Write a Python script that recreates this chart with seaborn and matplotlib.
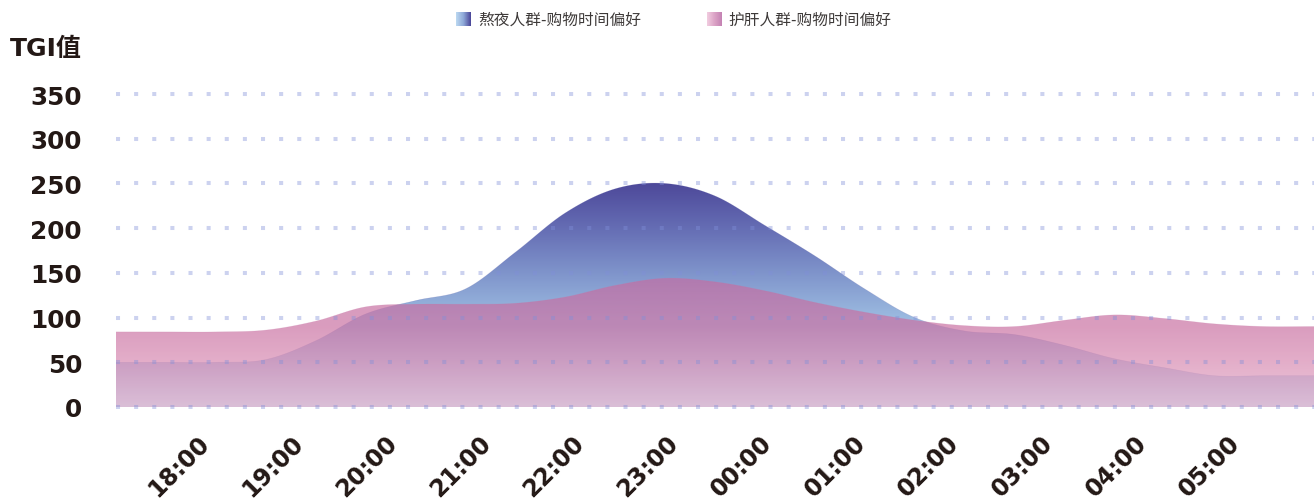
import numpy as np
import matplotlib
matplotlib.use("Agg")
import matplotlib.pyplot as plt
import seaborn as sns

# ---- data -------------------------------------------------------------
hour_labels = ["18:00", "19:00", "20:00", "21:00", "22:00", "23:00",
               "00:00", "01:00", "02:00", "03:00", "04:00", "05:00"]
series_names = ["熬夜人群-购物时间偏好", "护肝人群-购物时间偏好"]
# TGI readings sampled every half step along the time axis
night_owl_tgi = [50, 50, 50, 53, 74, 104, 119, 132, 173, 217, 244, 250, 236,
                 203, 169, 132, 100, 85, 81, 69, 54, 44, 35, 35, 35]
liver_care_tgi = [84, 84, 84, 86, 96, 112, 115, 115, 116, 123, 136, 144, 140,
                  130, 117, 106, 97, 91, 90, 97, 103, 99, 93, 90, 90]
y_ticks = [0, 50, 100, 150, 200, 250, 300, 350]

# ---- styling ----------------------------------------------------------
W, H = 1316, 502
TEXT = "#231815"
LEGEND_TEXT = "#3e3a39"
sns.set_theme(style="white")
plt.rcParams["font.family"] = ["DejaVu Sans", "Noto Sans CJK SC"]

fig = plt.figure(figsize=(W / 100, H / 100), dpi=100)
px_per_unit = 313 / 350
y_lo, y_hi = -2, 352
bottom_px = 408 + 2 * px_per_unit
top_px = 95 - 2 * px_per_unit
ax = fig.add_axes([116 / W, (H - bottom_px) / H, (1314 - 116) / W,
                   (bottom_px - top_px) / H])

n_slots = len(night_owl_tgi)
slot_x = np.arange(n_slots) / 2.0          # half-step positions, 0 .. 12


def smooth_curve(x, y, samples=24):
    """Cubic Hermite (Catmull-Rom style) curve through the readings."""
    x = np.asarray(x, float)
    y = np.asarray(y, float)
    m = np.zeros_like(y)
    m[1:-1] = (y[2:] - y[:-2]) / (x[2:] - x[:-2])
    xs, ys = [], []
    for i in range(len(x) - 1):
        h = x[i + 1] - x[i]
        t = np.linspace(0, 1, samples, endpoint=(i == len(x) - 2))
        h00 = 2 * t**3 - 3 * t**2 + 1
        h10 = t**3 - 2 * t**2 + t
        h01 = -2 * t**3 + 3 * t**2
        h11 = t**3 - t**2
        xs.append(x[i] + t * h)
        ys.append(h00 * y[i] + h10 * h * m[i] + h01 * y[i + 1] + h11 * h * m[i + 1])
    return np.concatenate(xs), np.concatenate(ys)


def gradient_area(ax, x, y, stops, zorder):
    """Fill under a curve with a vertical RGBA gradient given as (value, rgba) stops."""
    poly = ax.fill_between(x, 0, y, facecolor="none", edgecolor="none", zorder=zorder)
    vals = np.linspace(0, 360, 512)
    sv = np.array([s[0] for s in stops], float)
    sc = np.array([s[1] for s in stops], float)
    rgba = np.stack([np.interp(vals, sv, sc[:, k]) for k in range(4)], axis=-1)
    img = rgba[:, None, :]
    im = ax.imshow(img, extent=[x[0], x[-1], 0, 360], origin="lower",
                   aspect="auto", zorder=zorder, interpolation="bilinear")
    im.set_clip_path(poly.get_paths()[0], transform=ax.transData)
    return im


def c(hexstr, a=1.0):
    hexstr = hexstr.lstrip("#")
    return tuple(int(hexstr[i:i + 2], 16) / 255 for i in (0, 2, 4)) + (a,)


bx, by = smooth_curve(slot_x, night_owl_tgi)
px_, py_ = smooth_curve(slot_x, liver_care_tgi)

blue_stops = [(0, c("#c6dcf2")), (100, c("#9bbae0")), (150, c("#7f94cb")),
              (200, c("#656db4")), (255, c("#4b4597")), (360, c("#4b4597"))]
pink_stops = [(0, c("#e4b2cc", 0.70)), (50, c("#d88bb2", 0.70)),
              (90, c("#ca72a3", 0.70)), (150, c("#c56ea3", 0.70)),
              (360, c("#c56ea3", 0.70))]

gradient_area(ax, bx, by, blue_stops, zorder=2)
sns.lineplot(x=bx, y=by, ax=ax, color="#5a5aa6", linewidth=0.4, alpha=0.25,
             zorder=2.1, legend=False)
gradient_area(ax, px_, py_, pink_stops, zorder=3)
sns.lineplot(x=px_, y=py_, ax=ax, color="#c77aa8", linewidth=0.4, alpha=0.25,
             zorder=3.1, legend=False)

# dotted horizontal guides drawn over the areas
for v in y_ticks:
    ax.axhline(v, color=(0.50, 0.56, 0.85, 0.40), linewidth=2.9,
               linestyle=(0, (1, 3.5)), zorder=5)

ax.set_xlim(0, 12)
ax.set_ylim(y_lo, y_hi)
for s in ax.spines.values():
    s.set_visible(False)
ax.grid(False)

ax.set_yticks(y_ticks)
ax.set_yticklabels([str(v) for v in y_ticks], fontsize=17.8, fontweight="bold",
                   color=TEXT)
label_offset, label_step = 0.90, 0.9386
tick_pos = label_offset + label_step * np.arange(len(hour_labels))
ax.set_xticks(tick_pos)
ax.set_xticklabels(hour_labels, rotation=45, ha="right", va="center",
                   rotation_mode="anchor", fontsize=17, fontweight="bold",
                   color=TEXT)
ax.tick_params(axis="y", length=0, pad=24.5)
ax.tick_params(axis="x", length=0, pad=21.5)
ax.set_xlabel("")
ax.set_ylabel("")

# axis title
fig.text(10 / W, 1 - 56 / H, "TGI值", fontsize=18, fontweight="bold",
         color=TEXT, ha="left", va="baseline")

# legend with gradient swatches
legend_items = [
    (456, 478, series_names[0], ["#bcd9f1", "#8ea9d8", "#4a4598"]),
    (707, 728, series_names[1], ["#f2cde0", "#dca3c6", "#c482b3"]),
]
for sx, tx, name, cols in legend_items:
    sw = fig.add_axes([sx / W, (H - 27) / H, 15 / W, 14 / H])
    grad = np.linspace(0, 1, 64)
    stops_x = np.linspace(0, 1, len(cols))
    rgb = np.array([c(h)[:3] for h in cols])
    row = np.stack([np.interp(grad, stops_x, rgb[:, k]) for k in range(3)], -1)
    sw.imshow(row[None, :, :], aspect="auto", extent=[0, 1, 0, 1])
    sw.set_axis_off()
    fig.text(tx / W, 1 - 20.5 / H, name, fontsize=11.3, color=LEGEND_TEXT,
             family=["Noto Sans CJK SC", "DejaVu Sans"], ha="left", va="center")

fig.savefig("out.png", dpi=100)
